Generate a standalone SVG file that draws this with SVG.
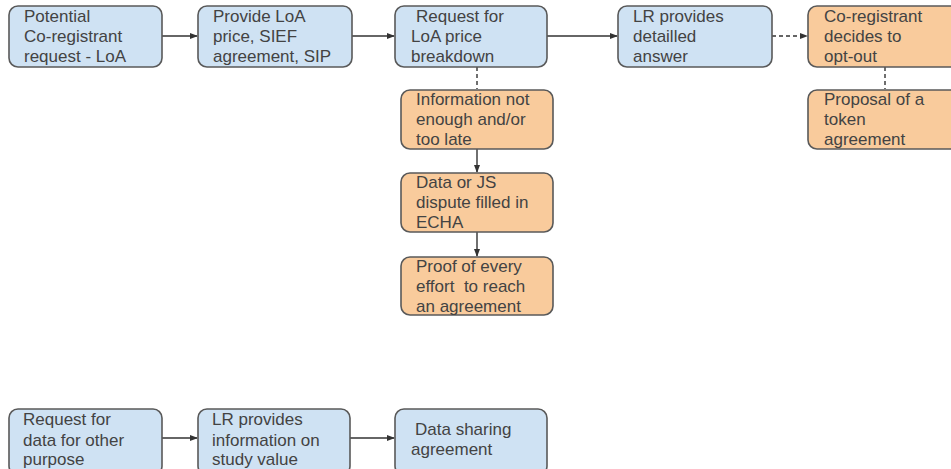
<svg xmlns="http://www.w3.org/2000/svg" width="951" height="469" viewBox="0 0 951 469">
<defs>
<style>
.b{fill:#cfe2f3;stroke:#595959;stroke-width:1.6}
.o{fill:#f9cb9c;stroke:#595959;stroke-width:1.6}
text{font-family:"Liberation Sans",Arial,sans-serif;font-size:17px;fill:#434343}
.c{fill:none;stroke:#333;stroke-width:1.4}
.d{stroke-dasharray:4,3}
</style>
<marker id="a" viewBox="0 0 8 8" refX="7" refY="4" markerWidth="8" markerHeight="8" markerUnits="userSpaceOnUse" orient="auto">
<path d="M0,1 L8,4 L0,7 Z" fill="#333"/>
</marker>
</defs>
<rect width="951" height="469" fill="#fff"/>
<g id="connectors">
<path class="c" d="M162,36 H197" marker-end="url(#a)"/>
<path class="c" d="M352,36 H394" marker-end="url(#a)"/>
<path class="c" d="M547,36 H617" marker-end="url(#a)"/>
<path class="c d" d="M772,36 H807" marker-end="url(#a)"/>
<path class="c d" d="M477,67 V89"/>
<path class="c" d="M477,149 V172" marker-end="url(#a)"/>
<path class="c" d="M477,232 V256" marker-end="url(#a)"/>
<path class="c d" d="M885,67 V89"/>
<path class="c" d="M162,438 H197" marker-end="url(#a)"/>
<path class="c" d="M350,438 H394" marker-end="url(#a)"/>
</g>
<g id="n1"><rect class="b" x="9" y="6" width="153" height="61" rx="9"/>
<text x="24" y="22">Potential</text><text x="24" y="42">Co-registrant</text><text x="24" y="62">request - LoA</text></g>
<g id="n2"><rect class="b" x="198" y="6" width="154" height="61" rx="9"/>
<text x="213" y="22">Provide LoA</text><text x="213" y="42">price, SIEF</text><text x="213" y="62">agreement, SIP</text></g>
<g id="n3"><rect class="b" x="395" y="6" width="152" height="61" rx="9"/>
<text x="416" y="22">Request for</text><text x="411" y="42">LoA price</text><text x="411" y="62">breakdown</text></g>
<g id="n4"><rect class="b" x="618" y="6" width="154" height="61" rx="9"/>
<text x="633" y="22">LR provides</text><text x="633" y="42">detailled</text><text x="633" y="62">answer</text></g>
<g id="n5"><rect class="o" x="808" y="6" width="160" height="61" rx="9"/>
<text x="824" y="22">Co-registrant</text><text x="824" y="42">decides to</text><text x="824" y="62">opt-out</text></g>
<g id="n6"><rect class="o" x="808" y="90" width="160" height="59" rx="9"/>
<text x="824" y="105">Proposal of a</text><text x="824" y="125">token</text><text x="824" y="145">agreement</text></g>
<g id="n7"><rect class="o" x="401" y="90" width="152" height="59" rx="9"/>
<text x="416" y="105">Information not</text><text x="416" y="125">enough and/or</text><text x="416" y="145">too late</text></g>
<g id="n8"><rect class="o" x="401" y="173" width="152" height="59" rx="9"/>
<text x="416" y="188">Data or JS</text><text x="416" y="208">dispute filled in</text><text x="416" y="228">ECHA</text></g>
<g id="n9"><rect class="o" x="401" y="257" width="152" height="58" rx="9"/>
<text x="416" y="272">Proof of every</text><text x="416" y="292" xml:space="preserve">effort  to reach</text><text x="416" y="312">an agreement</text></g>
<g id="n10"><rect class="b" x="9" y="409" width="153" height="66" rx="9"/>
<text x="23" y="425">Request for</text><text x="23" y="446">data for other</text><text x="23" y="465">purpose</text></g>
<g id="n11"><rect class="b" x="198" y="409" width="152" height="66" rx="9"/>
<text x="212" y="425">LR provides</text><text x="212" y="446">information on</text><text x="212" y="465">study value</text></g>
<g id="n12"><rect class="b" x="395" y="409" width="152" height="66" rx="9"/>
<text x="415" y="435">Data sharing</text><text x="411" y="455">agreement</text></g>
</svg>
